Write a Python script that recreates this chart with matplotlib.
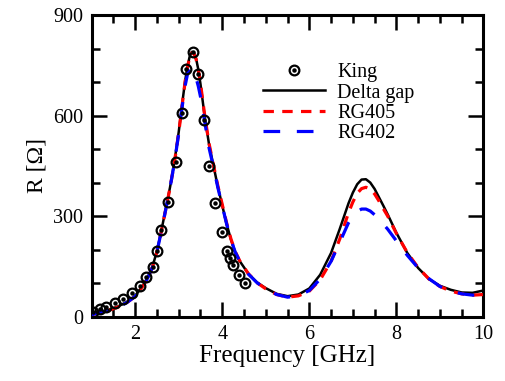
import numpy as np
import matplotlib
matplotlib.use("Agg")
from matplotlib import pyplot as plt
from matplotlib.ticker import MultipleLocator
from matplotlib.legend_handler import HandlerTuple

plt.rcParams['font.family'] = ['Liberation Serif', 'DejaVu Serif']
plt.rcParams['lines.scale_dashes'] = False

# King measurements
king_f = [1.04, 1.19, 1.34, 1.54, 1.73, 1.92, 2.11, 2.25, 2.40, 2.51, 2.59, 2.76,
          2.93, 3.07, 3.17, 3.32, 3.45, 3.58, 3.70, 3.83, 3.99, 4.10, 4.18, 4.25,
          4.39, 4.52]
king_r = [15, 22, 30, 40, 52, 70, 92, 117, 149, 197, 259, 343,
          461, 607, 738, 789, 723, 587, 450, 338, 254, 197, 174, 154,
          124, 100]

# Delta gap
dg_f = [1.0, 1.2, 1.4, 1.6, 1.8, 2.0, 2.2, 2.3, 2.4, 2.5, 2.6, 2.7, 2.8, 2.9,
        3.0, 3.05, 3.1, 3.15, 3.2, 3.25, 3.3, 3.35, 3.4, 3.45, 3.5, 3.55, 3.6,
        3.7, 3.8, 3.9, 4.0, 4.1, 4.2, 4.3, 4.4, 4.6, 4.8, 5.0, 5.25, 5.5, 5.75,
        6.0, 6.25, 6.5, 6.7, 6.9, 7.0, 7.1, 7.2, 7.3, 7.4, 7.5, 7.6, 7.7, 7.8,
        8.0, 8.25, 8.5, 8.75, 9.0, 9.25, 9.5, 9.75, 10.0]
dg_r = [8, 14, 21, 30, 43, 62, 97, 120, 150, 195, 255, 320, 385, 460,
        550, 602, 655, 705, 745, 775, 790, 788, 770, 738, 695, 645, 595,
        512, 450, 387, 332, 277, 230, 192, 166, 128, 102, 85, 68, 61, 66,
        84, 125, 190, 262, 338, 370, 395, 409, 410, 400, 381, 356, 331, 305,
        250, 190, 145, 112, 92, 80, 72, 71, 78]

# RG405
r405_f = [1.0, 1.2, 1.4, 1.6, 1.8, 2.0, 2.2, 2.3, 2.4, 2.5, 2.6, 2.7, 2.8, 2.9,
          3.0, 3.05, 3.1, 3.15, 3.2, 3.25, 3.3, 3.35, 3.4, 3.45, 3.5, 3.55, 3.6,
          3.7, 3.8, 3.9, 4.0, 4.1, 4.2, 4.3, 4.4, 4.6, 4.8, 5.0, 5.25, 5.5, 5.75,
          6.0, 6.25, 6.5, 6.7, 6.9, 7.0, 7.1, 7.2, 7.3, 7.4, 7.5, 7.6, 7.7, 7.8,
          8.0, 8.25, 8.5, 8.75, 9.0, 9.25, 9.5, 9.75, 10.0]
r405_r = [6, 12, 19, 28, 41, 60, 95, 118, 148, 193, 253, 318, 383, 458,
          548, 600, 652, 703, 743, 773, 787, 785, 768, 738, 697, 648, 598,
          515, 452, 390, 335, 280, 232, 194, 167, 128, 101, 83, 66, 58, 62,
          76, 110, 165, 232, 310, 342, 368, 382, 386, 381, 366, 345, 322, 300,
          248, 191, 146, 112, 90, 76, 68, 64, 66]

# RG402
r402_f = [1.0, 1.2, 1.4, 1.6, 1.8, 2.0, 2.2, 2.3, 2.4, 2.5, 2.6, 2.7, 2.8, 2.9,
          3.0, 3.05, 3.1, 3.15, 3.2, 3.25, 3.3, 3.35, 3.4, 3.45, 3.5, 3.55, 3.6,
          3.7, 3.8, 3.9, 4.0, 4.1, 4.2, 4.3, 4.4, 4.6, 4.8, 5.0, 5.25, 5.5, 5.75,
          6.0, 6.25, 6.5, 6.7, 6.9, 7.0, 7.1, 7.2, 7.3, 7.4, 7.5, 7.6, 7.7, 7.8,
          8.0, 8.25, 8.5, 8.75, 9.0, 9.25, 9.5, 9.75, 10.0]
r402_r = [6, 12, 19, 28, 41, 60, 95, 118, 148, 193, 253, 318, 383, 458,
          545, 597, 645, 690, 722, 738, 741, 732, 712, 688, 657, 620, 580,
          502, 445, 385, 331, 277, 230, 192, 166, 127, 101, 83, 66, 58, 62,
          78, 112, 165, 222, 280, 300, 314, 321, 321, 315, 304, 290, 276, 261,
          226, 183, 145, 113, 90, 76, 68, 64, 66]

fig = plt.figure(figsize=(5.06, 3.81), dpi=100)
ax = fig.add_axes([0.181, 0.169, 0.7745, 0.7915])

l_dg, = ax.plot(dg_f, dg_r, color='black', lw=1.8, zorder=2)
l_405, = ax.plot(r405_f, r405_r, color='#ff0000', lw=2.3, dashes=(7.5, 6), zorder=3)
l_402, = ax.plot(r402_f, r402_r, color='#0000ff', lw=2.3, dashes=(12, 12), zorder=4)
circ, = ax.plot(king_f, king_r, ls='none', marker='o', ms=7, mfc='none',
                mec='black', mew=1.6, zorder=5)
dot, = ax.plot(king_f, king_r, ls='none', marker='o', ms=2.2, mfc='black',
               mec='black', zorder=5)

ax.set_xlim(1, 10)
ax.set_ylim(0, 900)
ax.xaxis.set_major_locator(MultipleLocator(2))
ax.xaxis.set_minor_locator(MultipleLocator(0.5))
ax.yaxis.set_major_locator(MultipleLocator(300))
ax.yaxis.set_minor_locator(MultipleLocator(100))
ax.tick_params(which='both', direction='in', top=True, right=True, width=1.8,
               labelsize=14.5)
ax.tick_params(which='major', length=11, pad=6)
ax.tick_params(which='minor', length=6)
for s in ax.spines.values():
    s.set_linewidth(2.2)

ax.set_xlabel('Frequency [GHz]', fontsize=18, labelpad=1)
ax.set_ylabel('R [Ω]', fontsize=17, labelpad=4)

leg = ax.legend([(circ, dot), l_dg, l_405, l_402],
                ['King', 'Delta gap', 'RG405', 'RG402'],
                handler_map={tuple: HandlerTuple(ndivide=1)},
                loc='upper left', bbox_to_anchor=(0.437, 0.84), frameon=False,
                fontsize=14.5, handlelength=3.1, handletextpad=0.6,
                labelspacing=0.05, borderpad=0, borderaxespad=0, numpoints=1)

fig.savefig('out.png', dpi=100)
